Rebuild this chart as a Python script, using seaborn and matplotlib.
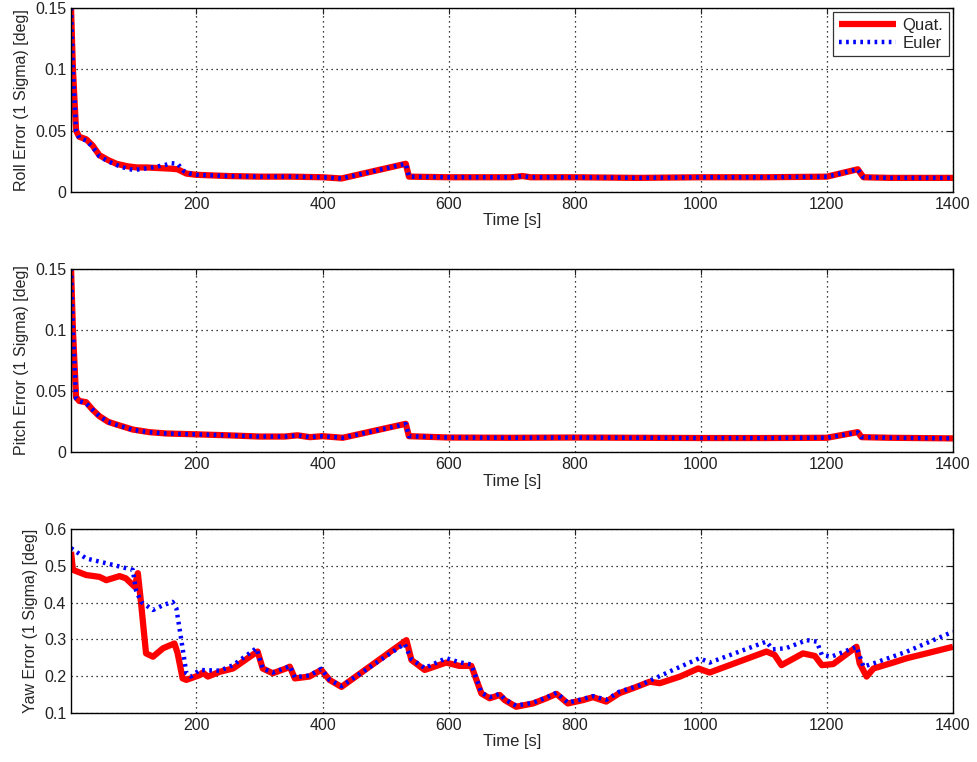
"""
Erro 1-sigma de atitude (roll, pitch, yaw): filtro com quaternion vs Euler.
"""

import numpy as np
import pandas as pd
import matplotlib
matplotlib.use("Agg")
import matplotlib.pyplot as plt
import seaborn as sns
from matplotlib.ticker import FormatStrFormatter

# --- DADOS ---
roll_t_quat = [1, 4, 9, 14, 25, 35, 46, 60, 73, 90, 105, 120, 140, 160, 170, 184, 200, 250, 300,
               350, 400, 430, 532, 537, 600, 700, 717, 730, 800, 900, 1000, 1100, 1200, 1249, 1258,
               1300, 1400]
roll_quat = [0.15, 0.10, 0.05, 0.045, 0.043, 0.038, 0.030, 0.026, 0.023, 0.021, 0.020, 0.020,
             0.0195, 0.019, 0.0185, 0.015, 0.014, 0.013, 0.0125, 0.0125, 0.012, 0.011, 0.023,
             0.0125, 0.012, 0.012, 0.013, 0.012, 0.012, 0.0115, 0.012, 0.012, 0.0125, 0.0185,
             0.012, 0.0115, 0.0115]
roll_t_euler = [1, 4, 9, 14, 25, 35, 46, 60, 73, 90, 100, 110, 130, 150, 160, 170, 180, 190, 200,
                250, 300, 350, 400, 430, 532, 537, 600, 700, 717, 730, 800, 900, 1000, 1100, 1200,
                1249, 1258, 1300, 1400]
roll_euler = [0.15, 0.10, 0.05, 0.044, 0.042, 0.037, 0.029, 0.025, 0.022, 0.019, 0.018, 0.0185,
              0.020, 0.022, 0.0235, 0.023, 0.017, 0.015, 0.014, 0.013, 0.0125, 0.0125, 0.012,
              0.011, 0.023, 0.0125, 0.012, 0.012, 0.013, 0.012, 0.012, 0.0115, 0.012, 0.012,
              0.0125, 0.0185, 0.012, 0.0115, 0.0115]

pitch_t = [1, 4, 9, 14, 25, 35, 46, 60, 73, 99, 125, 152, 200, 250, 300, 340, 360, 380, 400, 432,
           532, 537, 600, 700, 800, 900, 1000, 1100, 1200, 1249, 1255, 1300, 1400]
pitch_quat = [0.15, 0.10, 0.045, 0.042, 0.041, 0.035, 0.0296, 0.025, 0.0228, 0.0187, 0.0166,
              0.0155, 0.0148, 0.014, 0.013, 0.013, 0.014, 0.0125, 0.0133, 0.012, 0.0234, 0.0133,
              0.0122, 0.012, 0.0122, 0.012, 0.0118, 0.0118, 0.012, 0.0166, 0.0125, 0.012, 0.0115]
pitch_euler = [0.15, 0.10, 0.044, 0.042, 0.040, 0.035, 0.0296, 0.0248, 0.0226, 0.0185, 0.0165,
               0.0155, 0.0148, 0.014, 0.013, 0.013, 0.014, 0.0125, 0.0133, 0.012, 0.0232, 0.0133,
               0.0122, 0.012, 0.0122, 0.012, 0.0118, 0.0118, 0.012, 0.0164, 0.0125, 0.012, 0.0115]

yaw_t_quat = [1, 4, 25, 46, 57, 78, 88, 102, 107, 112, 120, 131, 147, 165, 170, 178, 184, 205,
              210, 218, 237, 258, 289, 297, 305, 321, 342, 348, 356, 379, 398, 411, 430, 533, 541,
              562, 596, 617, 636, 652, 665, 681, 689, 707, 734, 755, 771, 789, 813, 829, 850, 871,
              892, 919, 935, 967, 996, 1014, 1104, 1117, 1128, 1162, 1181, 1192, 1210, 1247, 1252,
              1263, 1274, 1305, 1327, 1358, 1379, 1400]
yaw_quat = [0.538, 0.489, 0.475, 0.470, 0.461, 0.472, 0.466, 0.443, 0.48, 0.40, 0.262, 0.253,
            0.276, 0.289, 0.263, 0.194, 0.19, 0.203, 0.21, 0.199, 0.212, 0.221, 0.258, 0.267,
            0.221, 0.208, 0.221, 0.226, 0.194, 0.199, 0.217, 0.19, 0.171, 0.298, 0.244, 0.217,
            0.237, 0.228, 0.228, 0.153, 0.14, 0.149, 0.135, 0.117, 0.126, 0.14, 0.152, 0.126,
            0.135, 0.143, 0.131, 0.154, 0.167, 0.185, 0.181, 0.199, 0.221, 0.21, 0.267, 0.258,
            0.23, 0.262, 0.255, 0.23, 0.233, 0.28, 0.235, 0.199, 0.221, 0.237, 0.249, 0.262,
            0.271, 0.28]
yaw_t_euler = [1, 25, 57, 99, 104, 112, 131, 147, 162, 168, 176, 184, 191, 205, 237, 258, 295,
               305, 321, 342, 348, 356, 379, 398, 411, 430, 530, 541, 562, 596, 617, 636, 652, 665,
               681, 689, 707, 734, 755, 771, 789, 813, 829, 850, 871, 903, 956, 998, 1014, 1104,
               1114, 1135, 1168, 1184, 1192, 1207, 1247, 1258, 1274, 1327, 1400]
yaw_euler = [0.548, 0.52, 0.507, 0.489, 0.434, 0.402, 0.38, 0.393, 0.402, 0.385, 0.298, 0.208,
             0.199, 0.217, 0.215, 0.23, 0.276, 0.221, 0.21, 0.223, 0.228, 0.197, 0.202, 0.22,
             0.19, 0.173, 0.288, 0.246, 0.222, 0.249, 0.238, 0.232, 0.155, 0.143, 0.152, 0.137,
             0.12, 0.128, 0.142, 0.155, 0.128, 0.138, 0.146, 0.136, 0.158, 0.175, 0.217, 0.249,
             0.237, 0.294, 0.273, 0.276, 0.298, 0.294, 0.258, 0.253, 0.28, 0.226, 0.235, 0.267,
             0.321]

x_ticks = [200, 400, 600, 800, 1000, 1200, 1400]

# --- ESTILO ---
sns.set_style("white")
plt.rcParams["font.family"] = ["Liberation Sans", "DejaVu Sans"]
plt.rcParams["xtick.direction"] = "in"
plt.rcParams["ytick.direction"] = "in"

fig, axes = plt.subplots(3, 1, figsize=(9.77, 7.62), dpi=100)
fig.subplots_adjust(left=0.0727, right=0.9754, top=0.9895, bottom=0.0643, hspace=0.416)

paineis = [
    (roll_t_quat, roll_quat, roll_t_euler, roll_euler, "Roll Error (1 Sigma) [deg]", (0, 0.15),
     [0, 0.05, 0.1, 0.15]),
    (pitch_t, pitch_quat, pitch_t, pitch_euler, "Pitch Error (1 Sigma) [deg]", (0, 0.15),
     [0, 0.05, 0.1, 0.15]),
    (yaw_t_quat, yaw_quat, yaw_t_euler, yaw_euler, "Yaw Error (1 Sigma) [deg]", (0.1, 0.6),
     [0.1, 0.2, 0.3, 0.4, 0.5, 0.6]),
]

for i, (ax, (tq, vq, te, ve, ylab, ylim, yt)) in enumerate(zip(axes, paineis)):
    df_q = pd.DataFrame({"t": tq, "v": vq})
    df_e = pd.DataFrame({"t": te, "v": ve})
    sns.lineplot(data=df_q, x="t", y="v", ax=ax, color="#ff0000", lw=4.5,
                 label="Quat." if i == 0 else None, solid_capstyle="butt")
    sns.lineplot(data=df_e, x="t", y="v", ax=ax, color="#0000ff", lw=3.2,
                 linestyle=(0, (0.6, 1.0)), label="Euler" if i == 0 else None)

    ax.set_xlim(1, 1400)
    ax.set_ylim(*ylim)
    ax.set_xticks(x_ticks)
    ax.set_yticks(yt)
    ax.yaxis.set_major_formatter(FormatStrFormatter("%g"))
    ax.grid(True, linestyle=(0, (1, 3)), color="black", lw=0.9)
    ax.set_axisbelow(True)
    ax.set_xlabel("Time [s]", fontsize=12, labelpad=1)
    ax.set_ylabel(ylab, fontsize=11.5, labelpad=4)
    ax.tick_params(labelsize=11.5, length=4, colors="#222222", top=True, right=True)
    for s in ax.spines.values():
        s.set_color("black")
        s.set_linewidth(1.0)

    if i == 0:
        leg = ax.legend(loc="upper right", fontsize=12, frameon=True, fancybox=False,
                        handlelength=3.4, borderpad=0.35, labelspacing=0.15,
                        borderaxespad=0.25, handletextpad=0.4)
        leg.get_frame().set_edgecolor("black")
        leg.get_frame().set_linewidth(0.9)
    else:
        if ax.get_legend() is not None:
            ax.get_legend().remove()

plt.savefig("out.png", dpi=100)
